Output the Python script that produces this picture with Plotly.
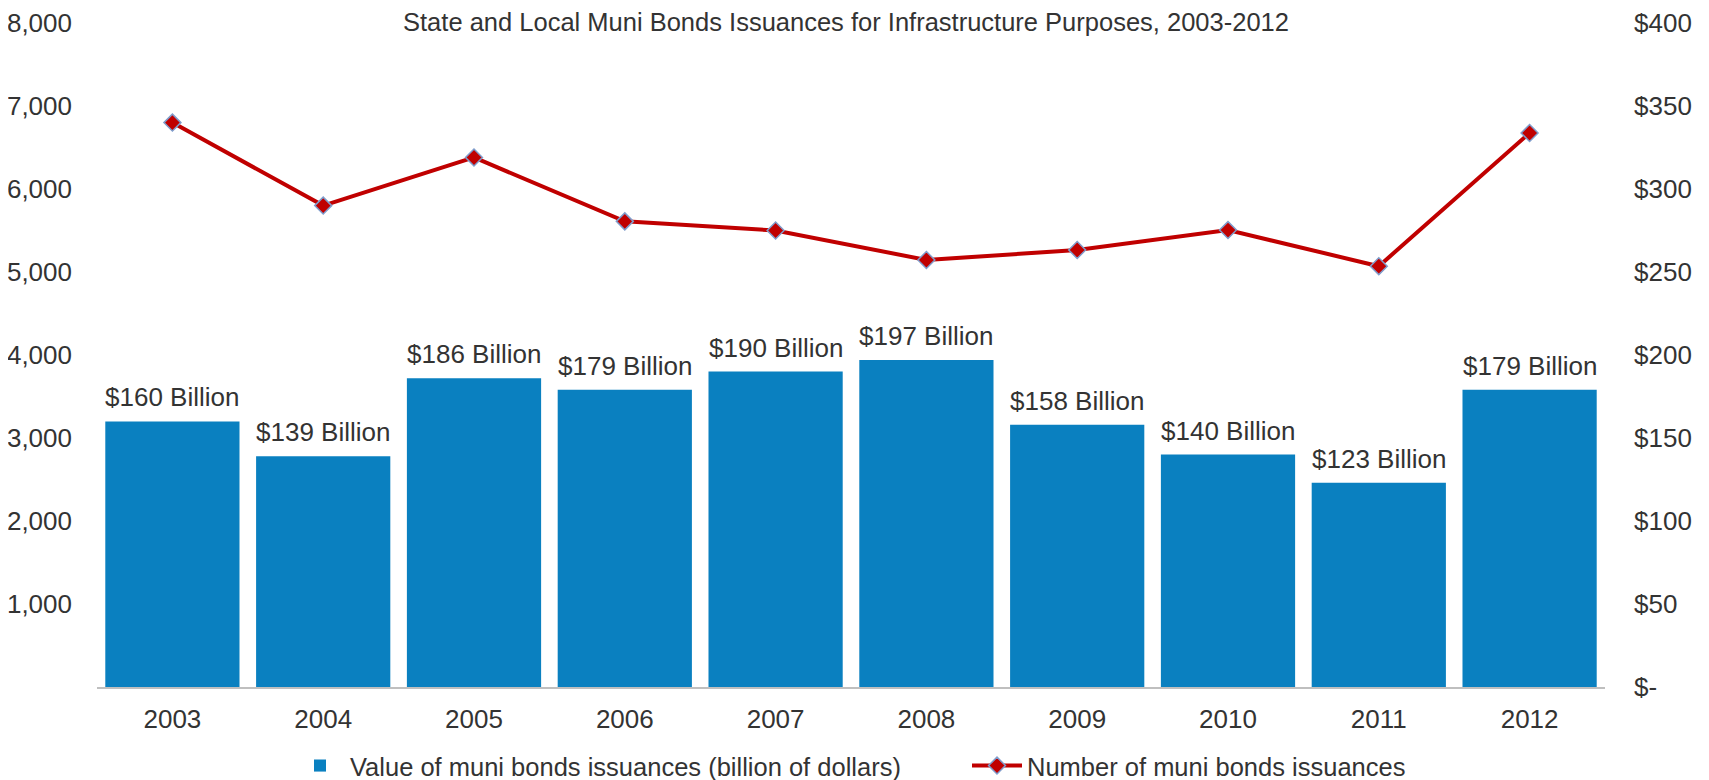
import plotly.graph_objects as go

years = ["2003", "2004", "2005", "2006", "2007", "2008", "2009", "2010", "2011", "2012"]
value_billion = [160, 139, 186, 179, 190, 197, 158, 140, 123, 179]
num_issuances = [6800, 5800, 6380, 5610, 5500, 5145, 5265, 5505, 5070, 6675]
bar_labels = ["$" + str(v) + " Billion" for v in value_billion]

left_ticks = [1000, 2000, 3000, 4000, 5000, 6000, 7000, 8000]
left_ticktext = ["1,000", "2,000", "3,000", "4,000", "5,000", "6,000", "7,000", "8,000"]
right_ticks = [0, 50, 100, 150, 200, 250, 300, 350, 400]
right_ticktext = ["$-", "$50", "$100", "$150", "$200", "$250", "$300", "$350", "$400"]

title_text = "State and Local Muni Bonds Issuances for Infrastructure Purposes, 2003-2012"
bar_name = "Value of muni bonds issuances (billion of dollars)"
line_name = "Number of muni bonds issuances"

FONT = "Liberation Sans, Arial, sans-serif"
TXT = "#333333"

# page body has an 8px default margin; figure is sized to fill the rest
W, H = 1701, 772

fig = go.Figure()
fig.add_trace(go.Bar(
    x=years, y=value_billion, yaxis="y2", name=bar_name,
    marker=dict(color="#0A80C0", line=dict(width=0)),
))
fig.add_trace(go.Scatter(
    x=years, y=num_issuances, yaxis="y", name=line_name,
    mode="lines+markers",
    line=dict(color="#C00000", width=4),
    marker=dict(symbol="diamond", size=13, color="#C00000",
                line=dict(color="#7F9CCB", width=1.5)),
))

for i, (v, lab) in enumerate(zip(value_billion, bar_labels)):
    fig.add_annotation(x=i, y=v, xref="x", yref="y2", text=lab,
                       showarrow=False, yanchor="bottom", yshift=7,
                       font=dict(family=FONT, size=26, color=TXT))

fig.update_layout(
    width=W, height=H,
    margin=dict(l=89, r=104, t=15, b=93, autoexpand=False),
    paper_bgcolor="white", plot_bgcolor="white",
    font=dict(family=FONT, size=26, color=TXT),
    title=dict(text=title_text, x=838 / W, xanchor="center",
               y=1 - 14 / H, yanchor="middle",
               font=dict(family=FONT, size=25.5, color=TXT)),
    bargap=0.11,
    showlegend=True,
    legend=dict(orientation="h", xref="container", x=282 / W, xanchor="left",
                yref="container", y=1 - 758 / H, yanchor="middle",
                font=dict(family=FONT, size=25.5, color=TXT),
                itemwidth=50, entrywidth=612, entrywidthmode="pixels"),
    xaxis=dict(type="category", range=[-0.5, 9.5], showgrid=False, showline=True,
               linecolor="#BFBFBF", linewidth=2, ticks="", automargin=False,
               ticklabelstandoff=8,
               tickfont=dict(family=FONT, size=26, color=TXT)),
    yaxis=dict(range=[0, 8000], tickvals=left_ticks, ticktext=left_ticktext,
               showgrid=False, zeroline=False, showline=False, automargin=False,
               ticklabelstandoff=24,
               tickfont=dict(family=FONT, size=26, color=TXT)),
    yaxis2=dict(range=[0, 400], tickvals=right_ticks, ticktext=right_ticktext,
                overlaying="y", side="right", automargin=False,
                showgrid=False, zeroline=False, showline=False,
                ticklabelstandoff=28,
                tickfont=dict(family=FONT, size=26, color=TXT)),
)

fig.write_html("out.html")
